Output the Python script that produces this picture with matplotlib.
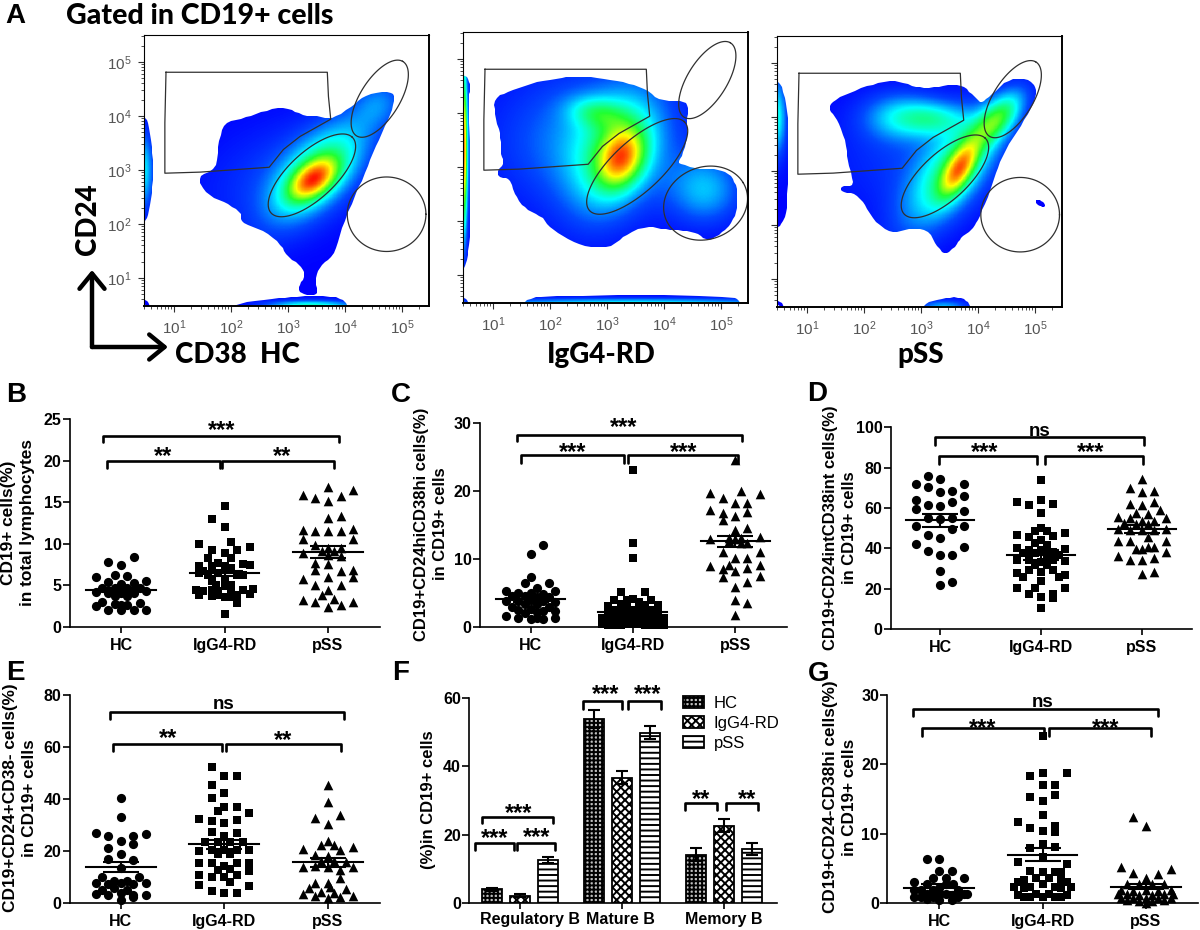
import numpy as np
import matplotlib
matplotlib.use('Agg')
import matplotlib.pyplot as plt
from matplotlib.colors import LinearSegmentedColormap
from matplotlib.patches import FancyArrowPatch, PathPatch
from matplotlib.path import Path
from matplotlib.ticker import LogLocator, NullFormatter, LogFormatterMathtext

plt.rcParams['font.family'] = ['Liberation Sans', 'DejaVu Sans']
plt.rcParams['font.weight'] = 'bold'
plt.rcParams['mathtext.default'] = 'regular'
plt.rcParams['hatch.linewidth'] = 1.4

W, H = 1200, 930

groups = ['HC', 'IgG4-RD', 'pSS']

# flow plots: outlines in decades (log10 CD38, log10 CD24)
hc_body = [(1.40,2.88),(1.75,3.01),(1.78,3.50),(1.88,3.87),(2.22,3.96),(2.57,4.09),(2.98,4.17),(3.21,4.02),
           (3.56,3.99),(3.80,3.94),(4.15,4.21),(4.38,4.40),(4.82,4.46),(4.88,4.33),(4.79,3.99),(4.56,3.50),
           (4.38,3.01),(4.15,2.45),(3.91,1.83),(3.80,1.40),(3.56,1.22),(3.47,0.97),(3.53,0.72),(3.42,0.66),
           (3.21,0.72),(3.18,0.85),(3.30,1.03),(3.24,1.22),(2.98,1.40),(2.86,1.65),(2.51,1.90),(2.16,2.02),
           (2.19,2.20),(1.92,2.39),(1.57,2.54)]
hc_left = [(0.40,4.0),(0.55,3.95),(0.60,3.5),(0.65,3.0),(0.60,2.5),(0.55,2.1),(0.40,1.98)]
hc_bottom = [(1.78,0.40),(2.2,0.54),(2.8,0.62),(3.2,0.66),(3.85,0.66),(4.03,0.55),(4.05,0.40)]
hc_corner = [(0.40,0.60),(0.55,0.58),(0.60,0.40)]
igg_body = [(1.01,4.28),(1.30,4.40),(1.71,4.56),(2.18,4.65),(2.47,4.68),(2.88,4.65),(3.35,4.56),(3.70,4.43),
            (3.94,4.22),(4.35,4.23),(4.43,4.09),(4.40,3.81),(4.42,3.51),(4.29,3.14),(4.24,3.07),(4.58,2.96),
            (4.93,2.97),(5.16,2.86),(5.28,2.64),(5.29,2.27),(5.22,1.99),(4.99,1.75),(4.75,1.62),(4.58,1.78),
            (4.29,1.83),(3.99,1.84),(3.70,1.92),(3.29,1.72),(3.12,1.53),(2.77,1.50),(2.36,1.62),(2.01,1.87),
            (1.86,2.09),(1.57,2.21),(1.39,2.46),(1.30,2.80),(1.09,2.80),(1.09,2.94),(1.19,3.07),(1.13,3.26),
            (1.14,3.57),(1.04,3.94)]
igg_left = [(0.40,4.72),(0.57,4.66),(0.60,4.45),(0.57,4.3),(0.60,3.0),(0.60,1.7),(0.55,1.3),(0.48,1.08),(0.40,1.08)]
igg_bottom = [(1.48,0.40),(1.6,0.56),(2.0,0.62),(5.2,0.62),(5.34,0.50),(5.38,0.40)]
igg_corner = [(0.40,0.60),(0.55,0.56),(0.60,0.40)]
pss_body = [(1.40,4.25),(1.69,4.43),(2.10,4.59),(2.51,4.68),(2.80,4.59),(3.09,4.52),(3.44,4.59),(3.74,4.59),
            (3.91,4.40),(4.06,4.25),(4.20,4.37),(4.50,4.68),(4.79,4.73),(5.02,4.59),(5.02,4.34),(4.79,3.88),
            (4.50,3.44),(4.32,3.01),(4.20,2.58),(4.00,2.09),(3.91,1.93),(3.71,1.78),(3.62,1.62),(3.42,1.44),
            (3.27,1.62),(3.12,1.93),(2.74,1.93),(2.48,1.84),(2.16,2.09),(2.04,2.33),(1.87,2.58),(1.60,2.61),
            (1.60,2.72),(1.84,2.72),(1.72,3.14),(1.69,3.51),(1.54,3.94),(1.40,4.12)]
pss_left = [(0.40,4.70),(0.55,4.62),(0.65,4.2),(0.68,3.6),(0.66,2.6),(0.64,2.15),(0.50,1.95),(0.40,1.95)]
pss_bottom = [(2.98,0.40),(3.1,0.56),(3.4,0.65),(3.7,0.66),(3.84,0.56),(3.88,0.40)]
pss_corner = [(0.40,0.62),(0.55,0.58),(0.62,0.40)]
pss_islet = [(5.01,2.47),(5.10,2.46),(5.20,2.36),(5.12,2.33),(5.02,2.40)]

# density bumps: x, y, height, spread along, spread across, angle
hc_bumps = [(3.44,2.82,0.55,0.34,0.20,40),(3.55,3.00,0.35,0.80,0.38,50),(3.00,2.90,0.10,1.10,0.70,20),
            (4.60,4.25,0.14,0.35,0.30,50),(0.47,3.00,0.28,0.12,0.50,0),(3.40,0.46,0.42,0.55,0.08,0)]
igg_bumps = [(3.26,3.17,0.50,0.38,0.26,70),(3.15,3.25,0.28,0.85,0.48,70),(2.82,4.00,0.20,0.35,0.20,-10),
             (2.70,3.50,0.20,1.10,0.90,0),(4.73,2.58,0.22,0.45,0.45,0),(0.46,3.30,1.05,0.06,1.00,0),
             (3.50,0.46,0.35,2.00,0.07,0)]
pss_bumps = [(3.68,3.04,0.50,0.38,0.16,62),(3.55,3.00,0.35,0.90,0.38,55),(4.35,3.97,0.40,0.42,0.20,50),
             (2.63,4.00,0.22,0.45,0.30,0),(3.25,3.97,0.22,0.40,0.22,0),(2.80,3.30,0.09,1.00,0.80,0),
             (0.47,4.00,0.32,0.12,0.50,0),(3.40,0.46,0.25,0.30,0.10,0)]

# gate polygon is the same on every plot
gate_box = [(0.86,4.81),(3.69,4.81),(3.71,4.36),(3.75,3.94),(3.21,3.62),(2.92,3.38),(2.67,3.05),(1.46,2.96),
            (0.84,2.94),(0.84,3.87)]
# ellipses: x, y, a, b, angle
hc_gates = [(3.42,2.90,1.00,0.42,45),(4.61,4.32,0.80,0.35,60),(4.73,2.18,0.69,0.69,0)]
igg_gates = [(3.53,3.01,1.17,0.45,45),(4.76,4.61,0.80,0.35,60),(4.73,2.33,0.76,0.66,30)]
pss_gates = [(3.42,2.90,1.00,0.42,45),(4.61,4.33,0.80,0.35,60),(4.74,2.19,0.69,0.69,0)]

# panel B
b_hc_y = [8.4,7.85,7.5,6.0,6.2,6.1,5.5,5.4,5.2,5.3,4.7,4.7,4.7,4.7,4.2,4.3,4.1,4.1,4.1,3.7,3.7,3.0,2.9,2.8,2.7,2.5,2.6,2.05,2.0,2.0,2.1]
b_hc_s = [1,-1,0,-2,-.5,.5,2,-1,0,1,-1.5,-.5,.5,1.5,-2,2,-1,0,1,-.5,.5,-1.5,1.5,-.5,.5,-2,0,-1,0,1,2]
b_igg_y = [14.6,13.0,12.0,10.0,10.2,9.2,9.3,9.6,8.9,8.3,8.3,7.3,7.7,7.6,6.7,7.3,7.3,7.4,7.1,6.5,6.3,6.5,6.3,6.3,5.5,5.7,5.1,5.1,4.9,4.5,4.6,4.3,4.5,4.3,4.3,4.4,3.9,3.7,3.6,3.9,4.0,3.9,3.6,2.9,1.6]
b_igg_s = [0,-1,0,-2,.5,-1,1,2,0,-1.3,.5,-2,-.5,1.5,-1.7,-1,0,2,.5,-2,-1.3,-.5,1,1.5,-1,0,-.7,.5,0,-2.3,2.3,-1.7,-1,-.5,.5,1.5,-2,-1,0,1,2,-.5,.5,1,0]
b_pss_y = [16.8,16.5,15.9,15.7,15.5,15.1,13.4,13.1,11.6,11.5,11.5,11.5,11.8,10.6,10.6,9.9,9.5,9.5,8.9,9.1,9.1,8.6,8.5,7.7,7.6,6.8,6.7,6.9,5.8,6.0,6.0,5.0,5.1,4.4,3.8,3.4,3.3,3.0,3.0,2.6,2.4]
b_pss_s = [0,2,-2,1,-1,0,1,0,-2,-1,0,1,2,-2,2,-1,0,1,-2,-.5,.5,0,1,-1,0,-1,1,2,-2,0,2,-1,1,0,-.5,.5,-2,-1,2,1,0]
b_mean = [4.4,6.45,9.0]
b_sem = [0.25,0.32,0.72]

# panel C
c_hc_y = [12.1,10.7,7.3,6.5,6.5,5.3,5.0,5.7,5.3,5.0,4.8,4.5,4.5,4.4,4.4,3.8,3.8,3.9,3.8,3.7,3.4,3.4,2.9,2.9,2.5,2.7,2.4,2.4,1.6,1.3,1.2,1.3,1.2,1.3,2.0,2.2]
c_hc_s = [1,0,0,-.5,1.5,-2,-1,.5,2,0,1,-1.5,-.5,.5,1.5,-2,-1,0,1,2,-.5,.5,-1.5,1.5,-1,0,1,2,-2,-1,0,.5,1,2,-.5,.5]
c_igg_y = [23.1,12.4,10.1,5.2,5.1,3.1,3.2,3.9,3.9,4.0,4.1,3.7,3.4,3.3,2.8,2.8,2.5,2.5,2.0,2.0,2.5,2.0,2.0,1.6,1.6,1.3,1.3,1.3,1.3,.9,.9,1.2,.9,.9,.4,.3,.3,.3,.4,.4,.4,.3,.3,.3,.3,.9,.9]
c_igg_s = [0,0,0,-1,1,-2,2,-1.5,1.5,-.5,0,.5,-1,1,-.5,.5,-1.5,1.5,-2,2,0,-1,1,-.5,.5,-2.5,2.5,-1.5,1.5,-2,2,0,-1,1,-2.5,-2,-1.5,-1,-.5,0,.5,1,1.5,2,2.5,-.5,.5]
c_pss_y = [24.6,20.0,19.7,19.5,18.9,18.3,18.3,17.2,16.9,16.8,16.3,15.7,14.6,14.2,13.0,13.3,13.1,13.1,13.0,11.0,11.1,10.1,10.1,9.1,9.0,9.1,8.5,8.2,8.7,7.3,7.5,5.9,6.6,4.0,3.5,1.8,12.7,12.3,12.4]
c_pss_s = [0,.5,-2,2,-1,0,1,-2,1,-1,0,-1,1,0,-2,2,-.5,.5,0,-1,2,0,1,-.5,-2,2,-1,0,1,-1,2,0,1,0,1,0,-.5,.5,1]
c_mean = [4.1,2.2,12.6]
c_sem = [0.4,0.5,0.85]

# panel D
d_hc_y = [76,74.4,71.7,71.7,70.2,68.4,67.8,65.8,64.1,63.1,61.3,61,59.5,58.5,54.9,54.5,54.9,51,51.2,49.4,46.6,45.3,42.3,40.7,38.7,36.5,36.7,29,23.1,21.7]
d_hc_s = [-1,0,-2,2,-1,1,0,2,-2,1,-1,0,-2,2,-1,0,1,-2,2,1,-1,0,-2,2,-1,0,1,0,1,0]
d_igg_y = [74,63.8,63,61.7,62.1,57.4,50.2,46.4,47.4,48.8,48.8,45.5,46.3,44.1,42.5,41.7,40.3,39,39.7,39,38.3,37.5,36.7,37.5,36.7,34.2,33.7,34.2,34.2,33.4,31.7,31.7,27.6,26.8,29.3,29.3,28.4,26,26,23.8,20.5,20.2,20.2,17.2,16,17.2,15.2,10.2]
d_igg_s = [0,0,-2,-1,1,0,0,-2,2,-.5,.5,-1,1,0,-.5,.5,-2,-1,2,0,1,-.5,.5,-1.5,1.5,-2,2,-1,1,0,-.5,.5,-2,2,-1,1,0,-1.5,1.5,0,-.5,-2,2,-1,0,1,1,0]
d_pss_y = [74.4,69.8,68.4,67.8,61.8,63.1,61.5,58.8,56.9,57.4,55.7,54.9,54.9,53.6,52.4,53.6,52,52,49.6,49.6,49,49,49,45.5,43.8,43.8,43.8,40.5,40.5,39.7,39.7,38.3,36.4,35.4,34,34,28.4,27.1]
d_pss_s = [0,-1,1,0,-1,1,0,1.5,.5,-.5,-2,2,-1,0,-1.5,1,.5,-.5,-2,2,-1,0,1,.5,-2,-1,2,.5,1,0,-.5,2,-2,1,-1,0,1,0]
d_mean = [53.8,36.6,49.7]
d_sem = [3.0,2.4,1.9]

# panel E
e_hc_y = [40.5,33.3,27.1,26.6,26,25.7,24.1,22.9,21.4,19,16.9,16.6,13.4,7.9,7.9,8.7,8.7,10.2,10.2,7.4,7.7,7.4,6,5.1,5.1,3.5,3.2,3.8,3,3.2,1.3,2.3]
e_hc_s = [0,0,-2,2,-1,1,0,1,-1,0,-1,1,0,-2,2,-.5,.5,1.5,-1.5,-1,0,1,-.5,.5,-1.5,-2,-1,0,1,2,0,1]
e_igg_y = [52.2,48.9,48.9,45.3,42.3,40.6,36.9,37.1,35.6,34.6,32.3,31.8,32,31,27.3,27.1,26,23.7,23.7,23.7,23.7,20.2,20.5,20.5,20.5,20.5,19,19,15.6,15.4,14.5,15.4,15.4,12.8,13,12.4,10.9,10,10,10.9,8.3,7,6.8,4.7,3.8,4.1]
e_igg_s = [-1,0,1,-1,0,-1,0,1,-.5,2,-2,-1,1,0,-1,1,0,-1.5,1.5,-.5,.5,-2,2,-1,1,0,-.5,.5,-2,-1,0,1,2,-.5,.5,2,-2,-1,0,1,.5,-2,2,-1,0,1]
e_pss_y = [45.5,39,32.9,34.1,30.6,24,22.2,22.2,20.7,21.5,20.5,18.6,18.3,16.3,16.3,16,14.1,14.3,14.1,14.1,12.8,9.6,7.9,7.9,5.8,6.4,5.4,3.5,4.5,4.1,2.8,2.8,1.9,2.6]
e_pss_s = [0,0,-1,1,0,0,-.5,.5,-2,2,1,-1,0,-.5,.5,1.5,-2,-1,0,2,1,1,-1,0,-1.5,.2,1.5,-2,-.5,.5,2,-1,0,1]
e_mean = [14.0,22.6,15.7]
e_sem = [2.0,1.9,1.6]

# panel G
g_hc_y = [6.4,6.4,4.6,4.6,3.7,3.7,3.6,3.0,2.8,2.8,2.8,1.9,1.9,1.9,2.2,1.9,1.4,1.4,1.4,.9,.9,1.2,1.2,.9,.9,.6,.5,.5,1.4]
g_hc_s = [-1,0,0,1,.5,-.5,2,-2,-1,.5,1.1,-2,-1.5,-.5,0,1.5,-1,.5,2,-2,-.5,0,1,1.5,-1.5,-1,0,1,2.2]
g_igg_y = [24.1,18.8,18.3,18.7,17,17,15.3,15.6,14.8,12.7,11.7,10.9,11.2,10.2,10.4,8.6,8,8.1,6.7,5.9,5.7,4.7,4.5,4.5,4.5,3.1,3.4,3.6,3.6,3.4,3.1,2.3,2.4,2.4,2.3,2.2,2.2,2.8,1.2,1.2,1.4,1.4,.9,.9,.9,.9,.9]
g_igg_s = [0,0,-1,2,0,1,-1,1,0,0,-2,-1,1,1,0,0,-1,1,0,-2,2,-1,0,1,1.5,-2,-1.5,-.5,.5,1.5,2,-2.3,-1,1,2.3,-1.5,1.5,0,-2,2,-.5,.5,-1,1,0,-1.5,1.5]
g_pss_y = [12.4,11.2,5.3,5,4.3,4.2,3.7,2.8,2.8,2.8,2.8,1.9,1.8,1.9,1.8,1.9,1.3,1.2,1.2,1.3,1.3,1.3,.7,.7,.7,.7,.7,.5,.4,.4,.5,.1]
g_pss_s = [-1,0,-2,2,-1,1,0,-1.5,-.5,.5,1.5,-2,-1,0,1,2,-1.5,-.5,.5,1.5,2.2,-2.2,-2,-1,0,1,2,-1.5,-.5,.5,1.5,0]
g_mean = [2.2,7.0,2.4]
g_sem = [0.55,0.95,0.4]

# panel F
f_groups = ['Regulatory B', 'Mature B', 'Memory B']
f_hc = [4.1,53.8,14.1]
f_igg = [2.2,36.7,22.7]
f_pss = [12.6,49.8,15.8]
f_hc_err = [0.4,2.7,1.9]
f_igg_err = [0.4,2.0,1.9]
f_pss_err = [0.8,1.9,1.7]

fig = plt.figure(figsize=(W/100, H/100), dpi=100, facecolor='white')

flow_cmap = LinearSegmentedColormap.from_list('flow', [(0,'#0000ff'),(0.12,'#0048ff'),(0.3,'#00ffff'),
    (0.5,'#20ff30'),(0.7,'#ffff00'),(0.85,'#ff8000'),(1,'#ff0000')])


def px_axes(left, right, bottom, top):
    return fig.add_axes([left/W, 1-bottom/H, (right-left)/W, (bottom-top)/H])


def fig_text(x, y, s, **kw):
    return fig.text(x/W, 1-y/H, s, **kw)


def smooth(points, rounds=2):
    pts = np.array(points, float)
    for _ in range(rounds):
        nxt = np.roll(pts, -1, axis=0)
        pts = np.column_stack([0.75*pts+0.25*nxt, 0.25*pts+0.75*nxt]).reshape(-1, 2)
    return pts


def ring(x, y, a, b, ang):
    t = np.linspace(0, 2*np.pi, 120)
    r = np.radians(ang)
    return (x + a*np.cos(t)*np.cos(r) - b*np.sin(t)*np.sin(r),
            y + a*np.cos(t)*np.sin(r) + b*np.sin(t)*np.cos(r))


def flow_plot(left, top, outlines, bumps, ellipses, show_y):
    ax = px_axes(left, left+285, top+271, top)
    xr = (0.474, 5.474)
    yr = (0.48, 5.50)
    gx, gy = np.meshgrid(np.linspace(xr[0], xr[1], 500), np.linspace(yr[0], yr[1], 500))
    z = np.zeros_like(gx)
    for x, y, amp, su, sv, ang in bumps:
        r = np.radians(ang)
        u = (gx-x)*np.cos(r) + (gy-y)*np.sin(r)
        v = -(gx-x)*np.sin(r) + (gy-y)*np.cos(r)
        z += amp*np.exp(-0.5*((u/su)**2 + (v/sv)**2))
    ax.set_xscale('log')
    ax.set_yscale('log')
    mesh = ax.pcolormesh(10**gx, 10**gy, z, cmap=flow_cmap, vmin=0, vmax=1, shading='auto')
    paths = [Path(10**np.vstack([p, p[0]]), closed=True) for p in [smooth(o) for o in outlines]]
    clip = PathPatch(Path.make_compound_path(*paths), transform=ax.transData, fc='none', ec='none')
    ax.add_patch(clip)
    mesh.set_clip_path(clip)

    box = np.array(gate_box + gate_box[:1])
    ax.plot(10**box[:, 0], 10**box[:, 1], color='#303030', lw=0.9)
    for e in ellipses:
        ex, ey = ring(*e)
        ax.plot(10**ex, 10**ey, color='#303030', lw=0.9)

    ax.set_xlim(10**xr[0], 10**xr[1])
    ax.set_ylim(10**yr[0], 10**yr[1])
    for axis in (ax.xaxis, ax.yaxis):
        axis.set_major_locator(LogLocator(base=10, numticks=10))
        axis.set_minor_locator(LogLocator(base=10, subs=np.arange(2, 10), numticks=10))
        axis.set_minor_formatter(NullFormatter())
        axis.set_major_formatter(LogFormatterMathtext())
    ax.tick_params(which='major', length=4, width=0.8, color='#303030', labelsize=11, labelcolor='#555555', pad=5)
    ax.tick_params(which='minor', length=2, width=0.6, color='#303030')
    for lab in ax.get_xticklabels() + ax.get_yticklabels():
        lab.set_fontweight('normal')
    if not show_y:
        ax.set_yticklabels([])
    for side in ('top', 'left'):
        ax.spines[side].set_linewidth(0.8)
    for side in ('right', 'bottom'):
        ax.spines[side].set_linewidth(1.4)
    return ax


def sig_marks(ax, brackets, labels):
    for x0, x1, y1, y0 in brackets:
        ax.plot([x0, x0, x1, x1], [y0, y1, y1, y0], color='k', lw=1.9, clip_on=False, zorder=4,
                solid_joinstyle='round', solid_capstyle='round')
    for x, y, s in labels:
        if s == 'ns':
            ax.annotate(s, (x, y), xytext=(0, -4), textcoords='offset points', ha='center', va='baseline',
                        fontsize=13.5, annotation_clip=False, zorder=5)
        else:
            ax.annotate(s, (x, y), xytext=(0, -7), textcoords='offset points', ha='center', va='baseline',
                        fontsize=17, annotation_clip=False, zorder=5)


def base_axes(left, right, bottom, top, first, gap, ymax, yticks):
    ax = px_axes(left, right, bottom, top)
    ax.set_xlim((left-first)/gap, (right-first)/gap)
    ax.set_ylim(0, ymax)
    ax.set_yticks(yticks)
    ax.spines['top'].set_visible(False)
    ax.spines['right'].set_visible(False)
    ax.spines['left'].set_linewidth(1.2)
    ax.spines['bottom'].set_linewidth(1.2)
    ax.tick_params(axis='y', length=5, width=1.2, labelsize=11.5, pad=1)
    ax.tick_params(axis='x', length=4, width=1.2, labelsize=11.5, pad=4)
    ax.set_facecolor('none')
    return ax


def dot_panel(left, right, bottom, top, first, gap, ymax, yticks, ys, slots, means, sems):
    ax = base_axes(left, right, bottom, top, first, gap, ymax, yticks)
    ax.set_xticks([0, 1, 2])
    ax.set_xticklabels(groups)
    sizes = {'o': 44, 's': 40, '^': 48}
    for i, mk in enumerate(['o', 's', '^']):
        xs = [i + 0.121*s for s in slots[i]]
        ax.scatter(xs, ys[i], marker=mk, s=sizes[mk], c='k', linewidths=0, clip_on=False, zorder=3)
        ax.plot([i-0.338, i+0.338], [means[i], means[i]], color='k', lw=1.5, zorder=4)
        ax.errorbar(i, means[i], yerr=sems[i], color='k', lw=1.5, capsize=13, capthick=1.5, zorder=4)
    return ax


def flow_labels():
    fig_text(66, 24, 'Gated in CD19+ cells', fontsize=20.5, family='Lato', weight='black', ha='left', va='baseline')
    fig_text(88, 219, 'CD24', fontsize=20, family='Lato', weight='black', rotation=90, ha='center', va='center')
    fig_text(175, 363, 'CD38  HC', fontsize=20, family='Lato', weight='black', ha='left', va='baseline')
    fig_text(601, 363, 'IgG4-RD', fontsize=20, family='Lato', weight='black', ha='center', va='baseline')
    fig_text(921, 363, 'pSS', fontsize=20, family='Lato', weight='black', ha='center', va='baseline')
    style = dict(arrowstyle='->,head_length=0.55,head_width=0.45', lw=3.2, color='k', mutation_scale=20,
                 transform=fig.transFigure, shrinkA=0, shrinkB=0)
    fig.add_artist(FancyArrowPatch((92/W, 1-347/H), (92/W, 1-270/H), **style))
    fig.add_artist(FancyArrowPatch((92/W, 1-347/H), (168/W, 1-347/H), **style))


# ---- A
flow_plot(144, 35, [hc_body, hc_left, hc_bottom, hc_corner], hc_bumps, hc_gates, True)
flow_plot(463, 32, [igg_body, igg_left, igg_bottom, igg_corner], igg_bumps, igg_gates, False)
flow_plot(777, 36, [pss_body, pss_left, pss_bottom, pss_corner, pss_islet], pss_bumps, pss_gates, False)
flow_labels()

# ---- B
ax = dot_panel(70, 380, 627, 419, 121, 103.5, 25, [0, 5, 10, 15, 20, 25],
               [b_hc_y, b_igg_y, b_pss_y], [b_hc_s, b_igg_s, b_pss_s], b_mean, b_sem)
sig_marks(ax, [(-.171, 2.11, 23.0, 22.2), (-.132, .958, 20.0, 19.1), (.974, 2.061, 20.0, 19.1)],
          [(.968, 24.0, '***'), (.403, 20.9, '**'), (1.555, 20.9, '**')])
fig_text(18, 523, 'CD19+ cells(%)\nin total lymphocytes', fontsize=12.4, rotation=90, ha='center', va='center',
         multialignment='center', linespacing=1.3)

# ---- C
ax = dot_panel(480, 787, 627, 423, 530.7, 102.2, 30, [0, 10, 20, 30],
               [c_hc_y, c_igg_y, c_pss_y], [c_hc_s, c_igg_s, c_pss_s], c_mean, c_sem)
sig_marks(ax, [(-.137, 2.065, 28.3, 27.3), (-.095, .917, 25.3, 24.1), (.949, 2.026, 25.3, 24.1)],
          [(.907, 29.8, '***'), (.411, 26.1, '***'), (1.50, 26.1, '***')])
fig_text(431, 524, 'CD19+CD24hiCD38hi cells(%)\nin CD19+ cells', fontsize=12, rotation=90, ha='center', va='center',
         multialignment='center', linespacing=1.4)

# ---- D
ax = dot_panel(890.7, 1191.7, 629, 427.3, 940, 101, 100, [0, 20, 40, 60, 80, 100],
               [d_hc_y, d_igg_y, d_pss_y], [d_hc_s, d_igg_s, d_pss_s], d_mean, d_sem)
sig_marks(ax, [(-.05, 2.023, 95, 91.2), (-.007, .964, 85.8, 81.7), (1.04, 2.007, 85.8, 81.7)],
          [(.99, 98.2, 'ns'), (.446, 89.3, '***'), (1.495, 89.3, '***')])
fig_text(840, 528, 'CD19+CD24intCD38int cells(%)\nin CD19+ cells', fontsize=12, rotation=90, ha='center', va='center',
         multialignment='center', linespacing=1.25)

# ---- E
ax = dot_panel(70, 380, 903.3, 695, 120.7, 103.5, 80, [0, 20, 40, 60, 80],
               [e_hc_y, e_igg_y, e_pss_y], [e_hc_s, e_igg_s, e_pss_s], e_mean, e_sem)
sig_marks(ax, [(-.103, 2.158, 73.4, 70.7), (-.07, .976, 61.1, 58.6), (1.018, 2.126, 61.1, 58.6)],
          [(.992, 76.8, 'ns'), (.454, 64.4, '**'), (1.572, 63.6, '**')])
fig_text(20, 798, 'CD19+CD24+CD38- cells(%)\nin CD19+ cells', fontsize=12.4, rotation=90, ha='center', va='center',
         multialignment='center', linespacing=1.25)

# ---- F
ax = base_axes(469.3, 776.7, 903.3, 697.7, 520, 102, 60, [0, 20, 40, 60])
bar_x = np.arange(3)
step = 0.2745
bw = 0.196
ax.bar(bar_x-step, f_hc, bw, color='#c0c0c0', edgecolor='k', linewidth=1.3, hatch='++++', label='HC')
ax.bar(bar_x, f_igg, bw, color='white', edgecolor='k', linewidth=1.3, hatch='xxxx', label='IgG4-RD')
ax.bar(bar_x+step, f_pss, bw, color='white', edgecolor='k', linewidth=1.3, hatch='---', label='pSS')
for off, vals, errs in [(-step, f_hc, f_hc_err), (0, f_igg, f_igg_err), (step, f_pss, f_pss_err)]:
    ax.errorbar(bar_x+off, vals, yerr=errs, fmt='none', ecolor='k', elinewidth=1.5, capsize=4.5, capthick=1.5, zorder=4)
ax.set_xticks(bar_x)
ax.set_xticklabels([])
for x, s in zip([0.098, 0.98, 2.0], f_groups):
    ax.annotate(s, (x, 0), xytext=(0, -15), textcoords='offset points', ha='center', va='baseline',
                fontsize=11.5, annotation_clip=False)
sig_marks(ax, [(-.441, -.059, 17.7, 15.6), (-.033, .343, 17.7, 15.6), (-.376, .327, 25.3, 23.3),
               (.621, .997, 58.9, 56.7), (1.062, 1.379, 58.9, 56.7), (1.618, 1.935, 29.4, 27.2), (2.016, 2.337, 29.4, 27.2)],
          [(-.016, 27.2, '***'), (-.245, 19.9, '***'), (.167, 20.2, '***'), (.84, 61.8, '***'), (1.248, 61.8, '***'),
           (1.778, 31.1, '**'), (2.222, 31.1, '**')])
ax.legend(loc='upper left', bbox_to_anchor=(0.667, 1.05), frameon=False, borderpad=0, handlelength=1.3, handleheight=0.75,
          labelspacing=0.3, handletextpad=0.55, prop={'size': 12, 'weight': 'normal'})
fig_text(428, 800, '(%)in CD19+ cells', fontsize=12, rotation=90, ha='center', va='center')

# ---- G
ax = dot_panel(887.3, 1198, 903.3, 695, 939.3, 103.2, 30, [0, 10, 20, 30],
               [g_hc_y, g_igg_y, g_pss_y], [g_hc_s, g_igg_s, g_pss_s], g_mean, g_sem)
sig_marks(ax, [(-.259, 2.12, 28, 27), (-.165, 1.011, 25.2, 24.1), (1.06, 2.055, 25.2, 24.1)],
          [(1.0, 29, 'ns'), (.421, 25.7, '***'), (1.611, 25.7, '***')])
fig_text(840, 797, 'CD19+CD24-CD38hi cells(%)\nin CD19+ cells', fontsize=12.3, rotation=90, ha='center', va='center',
         multialignment='center', linespacing=1.3)

# panel letters
for x, y, s in [(5, 23, 'A'), (6, 402, 'B'), (391, 402, 'C'), (807, 401, 'D'), (6, 680, 'E'), (392, 680, 'F'), (808, 681, 'G')]:
    fig_text(x, y, s, fontsize=20, ha='left', va='baseline')

fig.savefig('out.png', dpi=100)
